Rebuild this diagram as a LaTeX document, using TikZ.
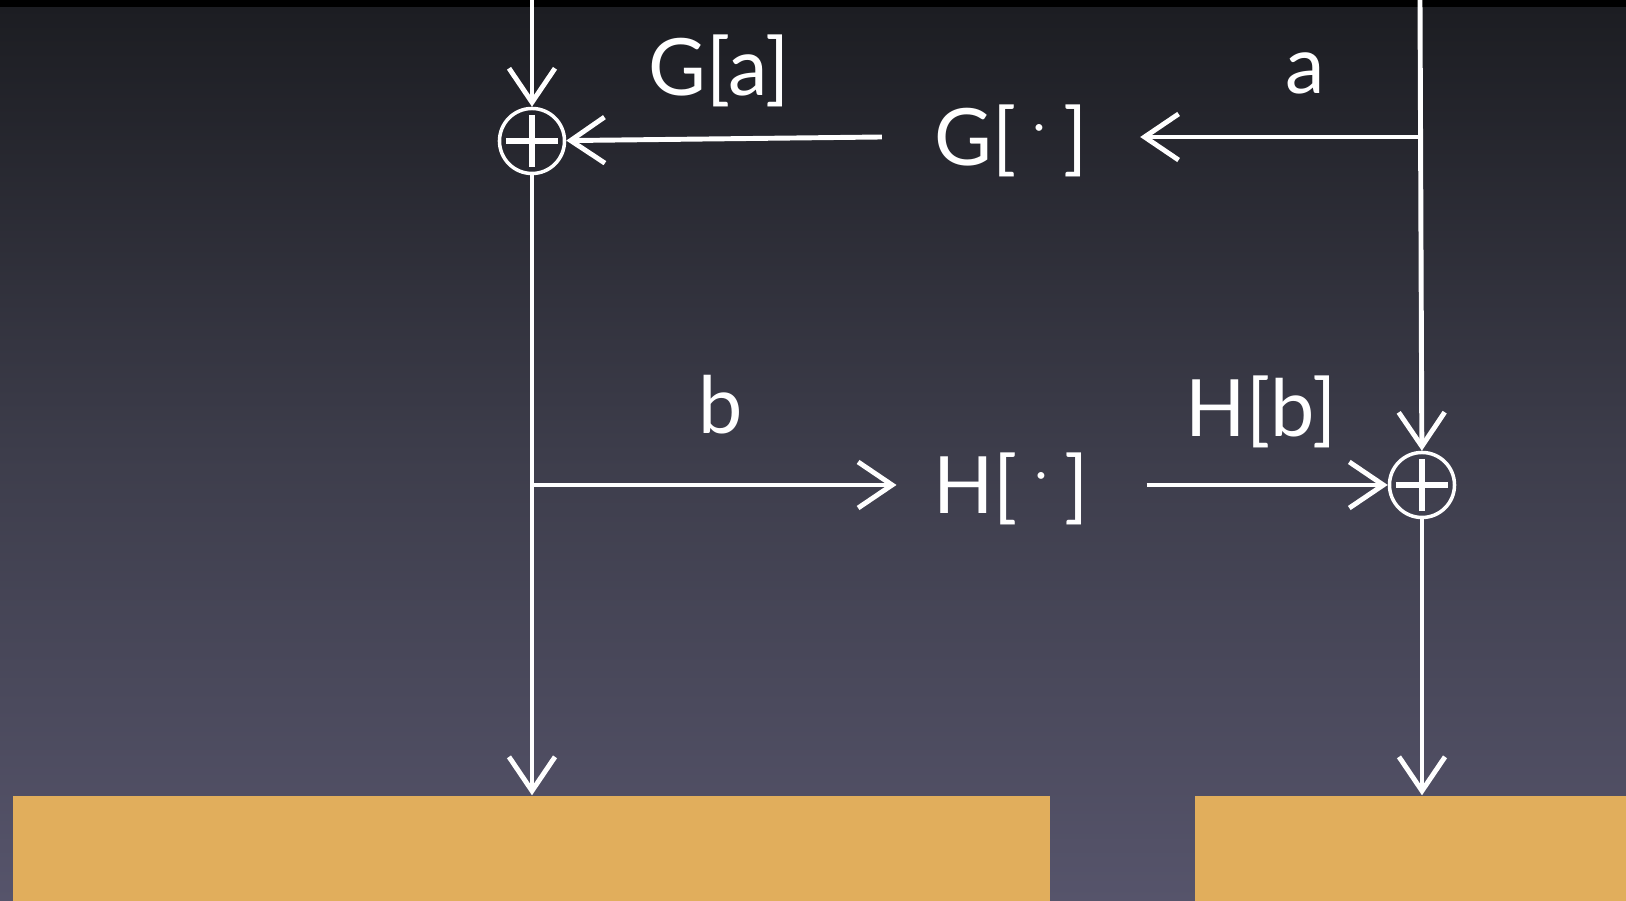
\documentclass[tikz,border=0pt]{standalone}
\usepackage{fontspec}
\setmainfont{Lato}
\usetikzlibrary{arrows.meta}
\definecolor{slatetop}{HTML}{1C1D22}
\definecolor{slatemid}{HTML}{3D3D4B}
\definecolor{slatebot}{HTML}{56546B}
\definecolor{woodfill}{HTML}{E1AE5C}
\newcommand{\argdot}{\hspace{0.22em}\raisebox{0.3em}{\fontsize{13}{13}\selectfont ·}\hspace{0.22em}}
\begin{document}
\begin{tikzpicture}[x=0.01cm, y=-0.01cm,
    sumnode/.style={circle, draw=white, line width=1pt, minimum size=6.5mm, inner sep=0pt,
      path picture={\draw[white, line width=1.6pt]
        ([yshift=-0.65mm]path picture bounding box.north) -- ([yshift=0.65mm]path picture bounding box.south)
        ([xshift=0.65mm]path picture bounding box.west) -- ([xshift=-0.65mm]path picture bounding box.east);}},
    lbl/.style={text=white, font=\fontsize{22.5}{27}\selectfont, text height=5.7mm, text depth=0pt, inner ysep=0pt, inner xsep=0pt},
    flow/.style={draw=white, line width=1.4pt, -{Straight Barb[length=3.4mm, width=4.6mm]}},
    plate/.style={fill=woodfill, draw=none, inner sep=0pt, minimum height=1.05cm}]
    \useasboundingbox (0,0) rectangle (1626,901);
    \shade[top color=slatetop, bottom color=slatebot, middle color=slatemid] (0,7) rectangle (1626,901);
    \fill[black] (0,0) rectangle (1626,7);
    \node[plate, minimum width=10.365cm] (lplate) at (531.75,848.5) {};
    \node[plate, minimum width=4.31cm] (rplate) at (1410.5,848.5) {};
    \node[sumnode] (gsum) at (532,141) {};
    \node[sumnode] (hsum) at (1422,485) {};
    \node[lbl, inner xsep=5.2mm] (gnode) at (1011,137) {G[\argdot]};
    \node[lbl, inner xsep=3.6mm] (hnode) at (1011,485) {H[\argdot]};
    \node[lbl] (ga) at (719,67) {G[a]};
    \node[lbl] (alabel) at (1305,65) {a};
    \node[lbl] (blabel) at (721,405) {b};
    \node[lbl] (hb) at (1261,408) {H[b]};
    \coordinate (gtop) at (532,0);
    \coordinate (atop) at (1420,0);
    \coordinate (asplit) at (1420,137);
    \coordinate (bsplit) at (gsum |- hsum);
    \draw[flow] (gtop) -- (gsum);
    \draw[flow] (gnode.west) -- (gsum);
    \draw[flow] (atop) -- (hsum);
    \draw[flow] (asplit) -- (gnode.east);
    \draw[flow] (gsum) -- (gsum |- lplate.north);
    \draw[flow] (bsplit) -- (hnode.west);
    \draw[flow] ([xshift=2.1mm]hnode.east) -- (hsum);
    \draw[flow] (hsum) -- (hsum |- rplate.north);
  \end{tikzpicture}
\end{document}
